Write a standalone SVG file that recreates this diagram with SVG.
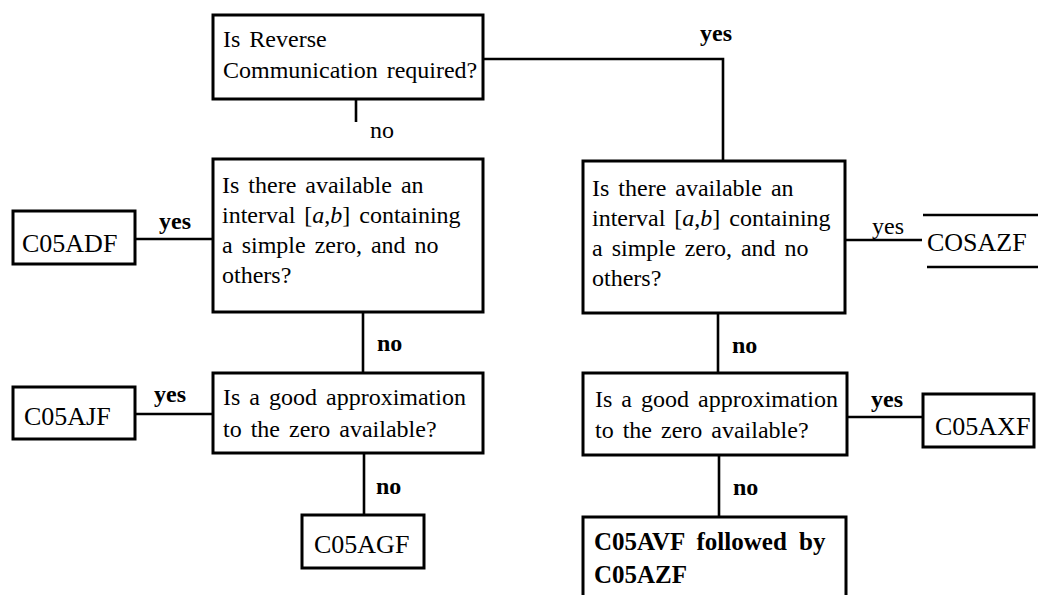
<svg xmlns="http://www.w3.org/2000/svg" width="1038" height="595" viewBox="0 0 1038 595">
  <style>
    .box { fill: #fff; stroke: #000; stroke-width: 3; }
    .edge { fill: none; stroke: #000; stroke-width: 2.6; }
    .q { font-family: "Liberation Serif", "Times New Roman", serif; font-size: 24px; word-spacing: 3px; fill: #000; }
    .name { font-family: "Liberation Serif", "Times New Roman", serif; font-size: 26px; fill: #000; }
    .lbl { font-family: "Liberation Serif", "Times New Roman", serif; font-size: 24px; fill: #000; }
    .b { font-weight: bold; }
    .i { font-style: italic; }
  </style>
  <rect width="1038" height="595" fill="#fff"/>

  <!-- connectors and their yes/no labels -->
  <g id="connectors">
    <path class="edge" d="M483,59 H723 V161"/>
    <path class="edge" d="M356,99 V122"/>
    <path class="edge" d="M135,239 H213"/>
    <path class="edge" d="M363,312 V373"/>
    <path class="edge" d="M135,414 H213"/>
    <path class="edge" d="M364,453 V515"/>
    <path class="edge" d="M845,240 H922"/>
    <path class="edge" d="M718,313 V373"/>
    <path class="edge" d="M847,417 H923"/>
    <path class="edge" d="M719,455 V517"/>
    <text class="lbl b" x="700" y="41">yes</text>
    <text class="lbl" x="370" y="138">no</text>
    <text class="lbl b" x="159" y="229">yes</text>
    <text class="lbl b" x="377" y="351">no</text>
    <text class="lbl b" x="154" y="402">yes</text>
    <text class="lbl b" x="376" y="494">no</text>
    <text class="lbl" x="872" y="234">yes</text>
    <text class="lbl b" x="732" y="353">no</text>
    <text class="lbl b" x="871" y="407">yes</text>
    <text class="lbl b" x="733" y="495">no</text>
  </g>

  <!-- start question -->
  <g id="q-reverse">
    <rect class="box" x="213" y="15" width="270" height="84"/>
    <text class="q" x="223" y="47">Is Reverse</text>
    <text class="q" x="223" y="78">Communication required?</text>
  </g>

  <!-- direct-communication branch -->
  <g id="q-interval-left">
    <rect class="box" x="213" y="159" width="270" height="153"/>
    <text class="q" x="222" y="193">Is there available an</text>
    <text class="q" x="222" y="223">interval [<tspan class="i">a</tspan>,<tspan class="i">b</tspan>] containing</text>
    <text class="q" x="222" y="253">a simple zero, and no</text>
    <text class="q" x="222" y="283">others?</text>
  </g>
  <g id="c05adf">
    <rect class="box" x="13" y="211" width="122" height="53"/>
    <text class="name" x="22" y="252">C05ADF</text>
  </g>
  <g id="q-approx-left">
    <rect class="box" x="213" y="373" width="270" height="80"/>
    <text class="q" x="223" y="405">Is a good approximation</text>
    <text class="q" x="223" y="437">to the zero available?</text>
  </g>
  <g id="c05ajf">
    <rect class="box" x="13" y="387" width="122" height="52"/>
    <text class="name" x="24" y="425">C05AJF</text>
  </g>
  <g id="c05agf">
    <rect class="box" x="302" y="515" width="122" height="53"/>
    <text class="name" x="314" y="553">C05AGF</text>
  </g>

  <!-- reverse-communication branch -->
  <g id="q-interval-right">
    <rect class="box" x="583" y="161" width="262" height="152"/>
    <text class="q" x="592" y="196">Is there available an</text>
    <text class="q" x="592" y="226">interval [<tspan class="i">a</tspan>,<tspan class="i">b</tspan>] containing</text>
    <text class="q" x="592" y="256">a simple zero, and no</text>
    <text class="q" x="592" y="286">others?</text>
  </g>
  <g id="cosazf">
    <path class="edge" d="M923,215 H1038 M927,267 H1038"/>
    <text class="name" x="927" y="251">COSAZF</text>
  </g>
  <g id="q-approx-right">
    <rect class="box" x="583" y="373" width="264" height="82"/>
    <text class="q" x="595" y="407">Is a good approximation</text>
    <text class="q" x="595" y="438">to the zero available?</text>
  </g>
  <g id="c05axf">
    <rect class="box" x="923" y="394" width="111" height="53"/>
    <text class="name" x="935" y="435">C05AXF</text>
  </g>
  <g id="c05avf-c05azf">
    <path class="box" d="M583,597 V517 H846 V597"/>
    <text class="q b" x="594" y="550" style="font-size:25px;word-spacing:6px">C05AVF followed by</text>
    <text class="q b" x="594" y="583" style="font-size:25px">C05AZF</text>
  </g>
</svg>
